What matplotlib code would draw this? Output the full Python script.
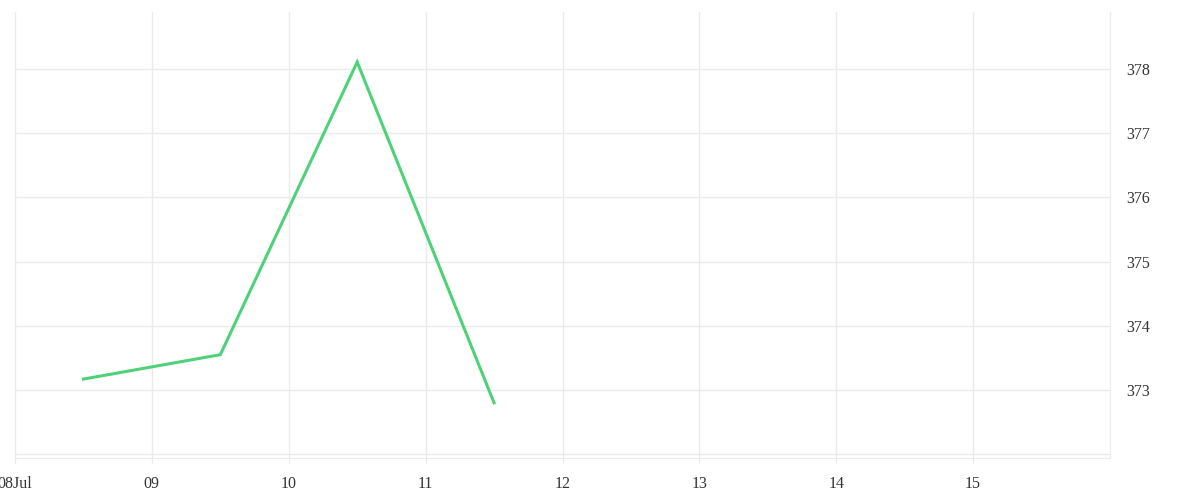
import datetime as dt
import matplotlib
matplotlib.use('Agg')
import matplotlib.pyplot as plt

# data
dates = [dt.datetime(2024, 7, 8, 12), dt.datetime(2024, 7, 9, 12),
         dt.datetime(2024, 7, 10, 12), dt.datetime(2024, 7, 11, 12)]
values = [373.17, 373.55, 378.11, 372.80]
tick_days = [dt.datetime(2024, 7, d) for d in range(8, 16)]
tick_labels = ['08Jul', '09', '10', '11', '12', '13', '14', '15']
y_ticks = [373, 374, 375, 376, 377, 378]

plt.rcParams['font.family'] = ['Liberation Serif', 'DejaVu Serif']

fig = plt.figure(figsize=(12, 5), dpi=100)
ax = fig.add_axes([15 / 1200, 1 - 458 / 500, 1095 / 1200, 446 / 500])

ax.plot(dates, values, color='#4fd17a', linewidth=2.2, solid_joinstyle='miter')

ax.set_xlim(dt.datetime(2024, 7, 8), dt.datetime(2024, 7, 16))
ax.set_ylim(371.94, 378.89)

ax.set_xticks(tick_days)
ax.set_xticklabels(tick_labels)
ax.set_yticks(y_ticks + [372])
ax.set_yticklabels([str(v) for v in y_ticks] + [''])
ax.yaxis.tick_right()

grid_col = '#ebebeb'
ax.grid(True, color=grid_col, linewidth=1)
ax.tick_params(axis='x', length=4, color=grid_col, labelsize=11.5, labelcolor='#333333', pad=9)
ax.tick_params(axis='y', length=0, labelsize=11.5, labelcolor='#333333', pad=12)

for side in ['top', 'left']:
    ax.spines[side].set_visible(False)
ax.spines['bottom'].set_color(grid_col)
ax.spines['right'].set_color(grid_col)

fig.savefig('out.png', dpi=100)
